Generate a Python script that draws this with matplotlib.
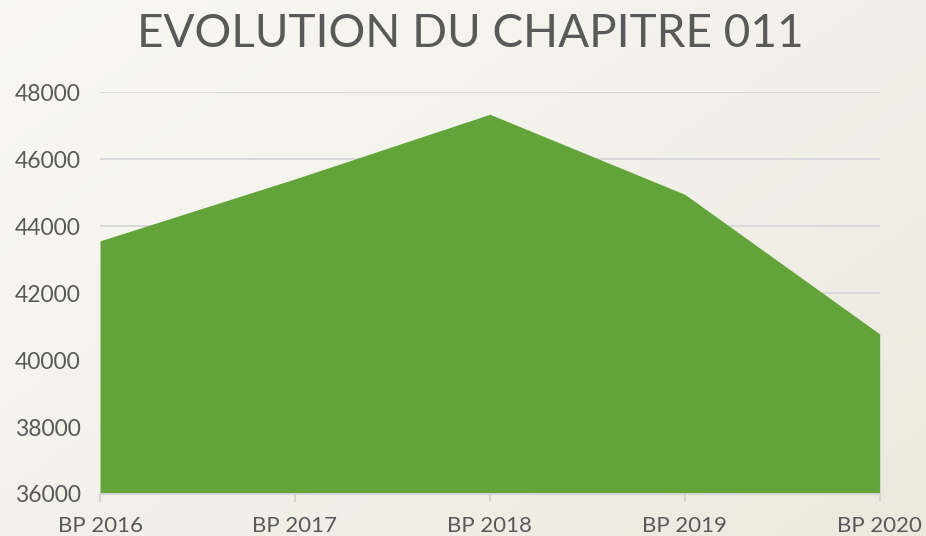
import numpy as np
from matplotlib import pyplot as plt

years = ["BP 2016", "BP 2017", "BP 2018", "BP 2019", "BP 2020"]
values = [43560, 45410, 47340, 44950, 40780]
y_ticks = [36000, 38000, 40000, 42000, 44000, 46000, 48000]

plt.rcParams['font.family'] = ['Lato', 'DejaVu Sans']

fig = plt.figure(figsize=(9.26, 5.36), dpi=100)

# soft off-white gradient background
bg = fig.add_axes([0, 0, 1, 1], zorder=-10)
gx, gy = np.meshgrid(np.linspace(0, 1, 200), np.linspace(0, 1, 200))
t = 0.55 * gx + 0.45 * gy
top = np.array([0.975, 0.973, 0.96])
bottom = np.array([0.925, 0.915, 0.87])
img = top[None, None, :] * (1 - t[..., None]) + bottom[None, None, :] * t[..., None]
bg.imshow(img, aspect='auto', extent=[0, 1, 0, 1], origin='upper')
bg.axis('off')

ax = fig.add_axes([0.108, 0.0784, 0.842, 0.7496])
ax.patch.set_alpha(0)
x = np.arange(len(years))
ax.fill_between(x, values, 36000, color='#62A43A', linewidth=0, zorder=3)

ax.set_xlim(0, len(years) - 1)
ax.set_ylim(36000, 48000)
ax.set_yticks(y_ticks)
ax.set_xticks(x)
ax.set_xticklabels(years)
ax.grid(axis='y', color='#D9D9D9', linewidth=1.4, zorder=1)

for s in ['top', 'right', 'left']:
    ax.spines[s].set_visible(False)
ax.spines['bottom'].set_color('#D5D5D5')
ax.spines['bottom'].set_linewidth(1.4)
ax.spines['bottom'].set_zorder(4)

ax.tick_params(axis='y', length=0, labelsize=16.5, labelcolor='#595959', pad=14)
ax.tick_params(axis='x', length=6, width=1.4, color='#D5D5D5', labelsize=16,
               labelcolor='#595959', pad=10)

fig.text(0.508, 0.937, "EVOLUTION DU CHAPITRE 011", ha='center', va='center',
         fontsize=33, color='#595959', fontweight='normal')

fig.savefig("out.png", dpi=100)
